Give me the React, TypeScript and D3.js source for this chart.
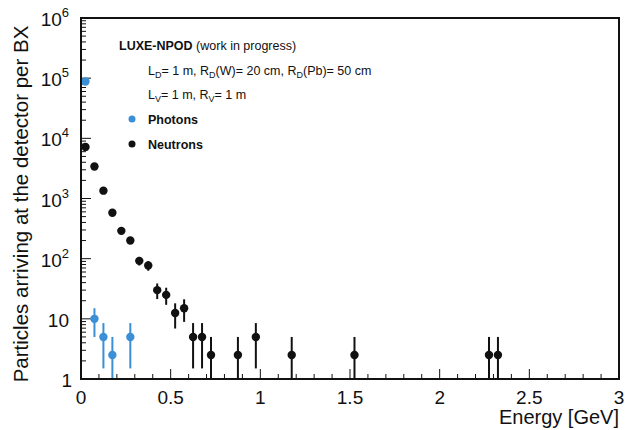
import React from "react";
import * as d3 from "d3";

const neutronEnergy = [0.025, 0.075, 0.125, 0.175, 0.225, 0.275, 0.325, 0.375, 0.425, 0.475, 0.525, 0.575, 0.625, 0.675, 0.725, 0.875, 0.975, 1.175, 1.525, 2.275, 2.325];
const neutronCounts = [7200, 3400, 1350, 580, 290, 200, 92, 77, 30, 25, 12.5, 15, 5, 5, 2.5, 2.5, 5, 2.5, 2.5, 2.5, 2.5];
const neutronErrors = [134, 92, 58, 38, 27, 22, 15, 14, 8.7, 7.9, 5.6, 6.1, 3.5, 3.5, 2.5, 2.5, 3.5, 2.5, 2.5, 2.5, 2.5];

const photonEnergy = [0.025, 0.075, 0.125, 0.175, 0.275];
const photonCounts = [88000, 10, 5, 2.5, 5];
const photonErrors = [470, 5, 3.5, 2.5, 3.5];

const xTicks = [0, 0.5, 1, 1.5, 2, 2.5, 3];
const xTickLabels = ["0", "0.5", "1", "1.5", "2", "2.5", "3"];
const yDecades = [1, 10, 100, 1000, 10000, 100000, 1000000];
const yExponents = ["", "", "2", "3", "4", "5", "6"];

const W = 627, H = 430;
const L = 81, R = 619, T = 18, B = 379;
const FONT = "'Liberation Sans', Arial, Helvetica, sans-serif";
const BLUE = "#3a8fd6";
const BLACK = "#111";

export default function App() {
  const x = d3.scaleLinear().domain([0, 3]).range([L, R]);
  const y = d3.scaleLog().domain([1, 1e6]).range([B, T]);

  const xMinor = d3.range(0, 31).map((i) => i / 10);
  const yMinor: number[] = [];
  for (let e = 0; e < 6; e++) for (let m = 2; m <= 9; m++) yMinor.push(m * Math.pow(10, e));

  const series = (E: number[], N: number[], Er: number[], color: string, key: string) =>
    E.map((e, i) => {
      const lo = N[i] - Er[i];
      const yLo = lo > 0 ? y(lo) : B + 5;
      const yHi = y(N[i] + Er[i]);
      return (
        <g key={key + i}>
          <line x1={x(e)} x2={x(e)} y1={yLo} y2={yHi} stroke={color} strokeWidth={2} />
          <circle cx={x(e)} cy={y(N[i])} r={4.2} fill={color} />
        </g>
      );
    });

  const sub = (s: string) => (
    <>
      <tspan fontSize={9} dy={3}>{s}</tspan>
    </>
  );

  return (
    <svg width={W} height={H} style={{ position: "absolute", left: 0, top: 0 }} fontFamily={FONT}>
      <rect width={W} height={H} fill="#fff" />
      <defs>
        <clipPath id="frame">
          <rect x={L} y={T} width={R - L} height={B - T} />
        </clipPath>
      </defs>
      {xMinor.map((v, i) => (
        <line key={"xm" + i} x1={x(v)} x2={x(v)} y1={B} y2={B - (i % 5 === 0 ? 10 : 5)} stroke={BLACK} strokeWidth={1} />
      ))}
      {yDecades.map((v, i) => (
        <line key={"yM" + i} x1={L} x2={L + 10} y1={y(v)} y2={y(v)} stroke={BLACK} strokeWidth={1} />
      ))}
      {yMinor.map((v, i) => (
        <line key={"ym" + i} x1={L} x2={L + 5} y1={y(v)} y2={y(v)} stroke={BLACK} strokeWidth={1} />
      ))}
      <g clipPath="url(#frame)">
        {series(photonEnergy, photonCounts, photonErrors, BLUE, "p")}
        {series(neutronEnergy, neutronCounts, neutronErrors, BLACK, "n")}
      </g>
      <rect x={L} y={T} width={R - L} height={B - T} fill="none" stroke={BLACK} strokeWidth={2} />
      {xTicks.map((v, i) => (
        <text key={"xl" + i} x={x(v)} y={404} fontSize={19} textAnchor="middle" fill={BLACK}>
          {xTickLabels[i]}
        </text>
      ))}
      {yDecades.map((v, i) => (
        <text key={"yl" + i} x={i === 0 ? 72 : 69} y={y(v) + 8} fontSize={19} textAnchor="end" fill={BLACK}>
          {i === 0 ? "1" : "10"}
          {yExponents[i] ? (
            <tspan fontSize={13} dy={-9}>{yExponents[i]}</tspan>
          ) : null}
        </text>
      ))}
      <text x={619} y={424} fontSize={20} textAnchor="end" fill={BLACK}>Energy [GeV]</text>
      <text transform={`translate(28, 204) rotate(-90)`} fontSize={20.5} textAnchor="middle" fill={BLACK}>
        Particles arriving at the detector per BX
      </text>
      <text x={119} y={50} fontSize={12.5} fill={BLACK}>
        <tspan fontWeight="bold">LUXE-NPOD</tspan>
        <tspan>{"  (work in progress)"}</tspan>
      </text>
      <text x={148} y={75} fontSize={12.5} fill={BLACK}>
        L{sub("D")}
        <tspan dy={-3}>= 1 m, R</tspan>
        {sub("D")}
        <tspan dy={-3}>(W)= 20 cm, R</tspan>
        {sub("D")}
        <tspan dy={-3}>(Pb)= 50 cm</tspan>
      </text>
      <text x={148} y={99} fontSize={12.5} fill={BLACK}>
        L{sub("V")}
        <tspan dy={-3}>= 1 m, R</tspan>
        {sub("V")}
        <tspan dy={-3}>= 1 m</tspan>
      </text>
      <circle cx={132} cy={119} r={3.5} fill={BLUE} />
      <text x={148} y={124} fontSize={12.5} fontWeight="bold" fill={BLACK}>Photons</text>
      <circle cx={132} cy={144} r={3.5} fill={BLACK} />
      <text x={148} y={149} fontSize={12.5} fontWeight="bold" fill={BLACK}>Neutrons</text>
    </svg>
  );
}
